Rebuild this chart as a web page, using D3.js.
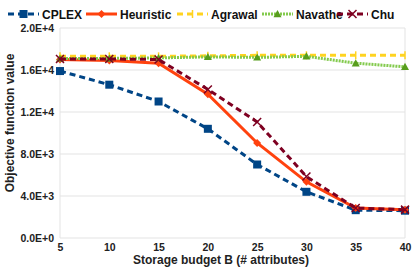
<!DOCTYPE html>
<html>
<head>
<meta charset="utf-8">
<script src="https://cdn.jsdelivr.net/npm/d3@7"></script>
<style>
  body { margin: 0; background: #fff; }
  text { font-family: "Liberation Sans", Arial, sans-serif; font-weight: bold; }
</style>
</head>
<body>
<svg id="chart" width="415" height="267"></svg>
<script>
// budgets on the x axis
const budgets = [5, 10, 15, 20, 25, 30, 35, 40];
const yTicks = [0, 4000, 8000, 12000, 16000, 20000];

// objective values per method
const cplex     = [15900, 14600, 13000, 10400, 7000, 4400, 2650, 2600];
const heuristic = [17000, 16900, 16650, 13700, 9050, 5350, 2850, 2700];
const agrawal   = [17300, 17300, 17300, 17350, 17400, 17400, 17400, 17400];
const navathe   = [17100, 17100, 17150, 17250, 17200, 17300, 16650, 16300];
const chu       = [17050, 17050, 17000, 14150, 11050, 5850, 2850, 2700];

const series = [
  { name: "CPLEX",     values: cplex,     color: "#004586", dash: "6,4", marker: "square" },
  { name: "Heuristic", values: heuristic, color: "#ff420e", dash: null,  marker: "diamond" },
  { name: "Agrawal",   values: agrawal,   color: "#ffd320", dash: "6,4", marker: "bar" },
  { name: "Navathe",   values: navathe,   color: "#83ca4d", dash: "2,1", marker: "triangle", mColor: "#579d1c" },
  { name: "Chu",       values: chu,       color: "#7e0021", dash: "6,4", marker: "cross" }
];

const svg = d3.select("#chart");
const margin = { top: 28, left: 60 };

const x = d3.scaleLinear().domain([5, 40]).range([0, 345]);
const y = d3.scaleLinear().domain([0, 20000]).range([210, 0]);

const g = svg.append("g").attr("transform", `translate(${margin.left},${margin.top})`);

// grid
g.selectAll(".grid").data(yTicks).enter().append("line")
  .attr("x1", 0).attr("x2", x(40))
  .attr("y1", d => y(d)).attr("y2", d => y(d))
  .attr("stroke", "#e3e3e3").attr("stroke-width", 1);
g.selectAll(".vgrid").data([5, 40]).enter().append("line")
  .attr("x1", d => x(d)).attr("x2", d => x(d))
  .attr("y1", 0).attr("y2", y(0))
  .attr("stroke", "#e3e3e3").attr("stroke-width", 1);

// axes
const yAxis = g.append("g")
  .call(d3.axisLeft(y).tickValues(yTicks).tickSize(0).tickPadding(6)
    .tickFormat(d => (d === 0 ? "0.0E+0" : d3.format(".1e")(d).replace("e+", "E+"))));
yAxis.select(".domain").remove();
yAxis.selectAll("text").attr("font-size", 10.5).attr("fill", "#222");

const xAxis = g.append("g").attr("transform", `translate(0,${y(0)})`)
  .call(d3.axisBottom(x).tickValues(budgets).tickSize(0).tickPadding(6));
xAxis.select(".domain").remove();
xAxis.selectAll("text").attr("font-size", 10.5).attr("fill", "#222");

// titles
svg.append("text")
  .attr("transform", "translate(14,123) rotate(-90)")
  .attr("text-anchor", "middle").attr("font-size", 12).attr("fill", "#222")
  .text("Objective function value");
svg.append("text")
  .attr("x", 221).attr("y", 264)
  .attr("text-anchor", "middle").attr("font-size", 12).attr("fill", "#222")
  .text("Storage budget B (# attributes)");

function drawMarker(sel, type, color, s) {
  if (type === "square") {
    sel.append("rect").attr("x", -s).attr("y", -s).attr("width", 2 * s).attr("height", 2 * s).attr("fill", color);
  } else if (type === "diamond") {
    sel.append("path").attr("d", `M0,${-s}L${s},0L0,${s}L${-s},0Z`).attr("fill", color);
  } else if (type === "triangle") {
    sel.append("path").attr("d", `M0,${-s}L${s},${s * 0.8}L${-s},${s * 0.8}Z`).attr("fill", color);
  } else if (type === "bar") {
    sel.append("line").attr("x1", 0).attr("x2", 0).attr("y1", -s).attr("y2", s)
      .attr("stroke", color).attr("stroke-width", 1.5);
  } else if (type === "cross") {
    sel.append("path").attr("d", `M${-s},${-s}L${s},${s}M${-s},${s}L${s},${-s}`)
      .attr("stroke", color).attr("stroke-width", 1.5).attr("fill", "none");
  }
}

const line = d3.line().x((d, i) => x(budgets[i])).y(d => y(d));

series.forEach(s => {
  g.append("path").datum(s.values)
    .attr("d", line).attr("fill", "none")
    .attr("stroke", s.color).attr("stroke-width", 3)
    .attr("stroke-dasharray", s.dash);
  s.values.forEach((v, i) => {
    const m = g.append("g").attr("transform", `translate(${x(budgets[i])},${y(v)})`);
    drawMarker(m, s.marker, s.mColor || s.color, 4);
  });
});

// legend
const legendX = [8, 86, 177, 262, 337];
const legend = svg.append("g").attr("transform", "translate(0,14)");
series.forEach((s, i) => {
  const lg = legend.append("g").attr("transform", `translate(${legendX[i]},0)`);
  lg.append("line").attr("x1", 0).attr("x2", 31).attr("y1", 0).attr("y2", 0)
    .attr("stroke", s.color).attr("stroke-width", 3).attr("stroke-dasharray", s.dash);
  const m = lg.append("g").attr("transform", "translate(15.5,0)");
  drawMarker(m, s.marker, s.mColor || s.color, 4);
  lg.append("text").attr("x", 34).attr("y", 4.5).attr("font-size", 12).attr("fill", "#111").text(s.name);
});
</script>
</body>
</html>
